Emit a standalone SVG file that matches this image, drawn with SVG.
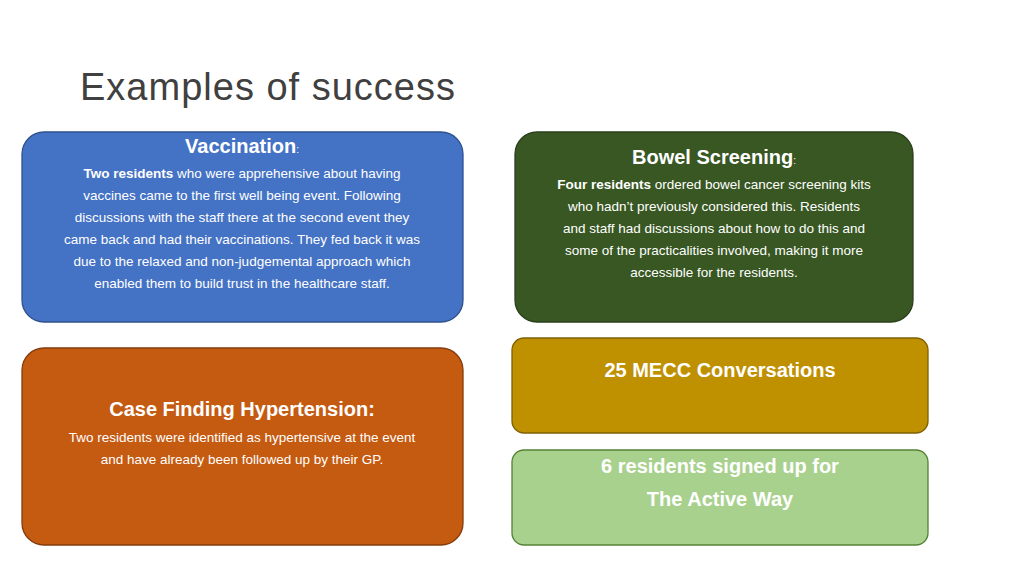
<svg xmlns="http://www.w3.org/2000/svg" width="1024" height="576" viewBox="0 0 1024 576">
<style>
text{font-family:"Liberation Sans",Arial,sans-serif;text-anchor:middle;fill:#fff}
.b{font-size:13.5px}
.h{font-size:20px;font-weight:bold}
.box{stroke-width:1.3}
</style>
<rect width="1024" height="576" fill="#fff"/>
<text x="80" y="100" style="text-anchor:start;font-size:38px;fill:#404040" textLength="375">Examples of success</text>
<g id="vaccination">
<rect class="box" x="22" y="132" width="441" height="190" rx="22" fill="#4472C4" stroke="#2F528F"/>
<text x="242" y="153" class="h">Vaccination<tspan style="font-size:10px;font-weight:normal">:</tspan></text>
<text class="b" x="242" y="178"><tspan font-weight="bold">Two residents</tspan> who were apprehensive about having</text>
<text class="b" x="242" y="200">vaccines came to the first well being event. Following</text>
<text class="b" x="242" y="222">discussions with the staff there at the second event they</text>
<text class="b" x="242" y="244">came back and had their vaccinations. They fed back it was</text>
<text class="b" x="242" y="266">due to the relaxed and non-judgemental approach which</text>
<text class="b" x="242" y="288">enabled them to build trust in the healthcare staff.</text>
</g>
<g id="bowel">
<rect class="box" x="515" y="132" width="398" height="190" rx="22" fill="#385723" stroke="#2A3F1C"/>
<text x="714" y="164" class="h">Bowel Screening<tspan style="font-size:10px;font-weight:normal">:</tspan></text>
<text class="b" x="714" y="189"><tspan font-weight="bold">Four residents</tspan> ordered bowel cancer screening kits</text>
<text class="b" x="714" y="211">who hadn’t previously considered this. Residents</text>
<text class="b" x="714" y="233">and staff had discussions about how to do this and</text>
<text class="b" x="714" y="255">some of the practicalities involved, making it more</text>
<text class="b" x="714" y="277">accessible for the residents.</text>
</g>
<g id="hypertension">
<rect class="box" x="22" y="348" width="441" height="197" rx="22" fill="#C55A11" stroke="#843C0C"/>
<text x="242" y="416" class="h">Case Finding Hypertension:</text>
<text class="b" x="242" y="442">Two residents were identified as hypertensive at the event</text>
<text class="b" x="242" y="464">and have already been followed up by their GP.</text>
</g>
<g id="mecc">
<rect class="box" x="512" y="338" width="416" height="95" rx="12" fill="#BF9000" stroke="#7F6000"/>
<text x="720" y="377" class="h">25 MECC Conversations</text>
</g>
<g id="activeway">
<rect class="box" x="512" y="450" width="416" height="95" rx="12" fill="#A9D18E" stroke="#548235"/>
<text x="720" y="473" class="h">6 residents signed up for</text>
<text x="720" y="506" class="h">The Active Way</text>
</g>
<g id="connectors"/>
</svg>
